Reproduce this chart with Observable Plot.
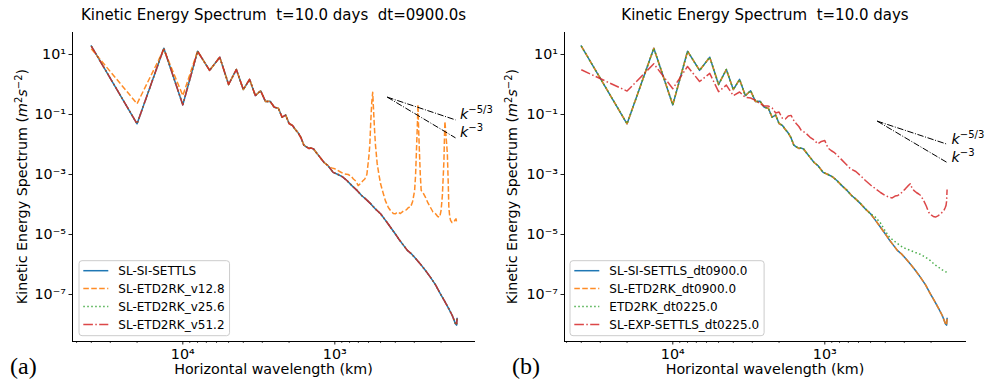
<!DOCTYPE html>
<html>
<head>
<meta charset="utf-8">
<script src="https://cdn.jsdelivr.net/npm/d3@7"></script>
<script src="https://cdn.jsdelivr.net/npm/@observablehq/plot@0.6"></script>
<style>
  html, body { margin: 0; padding: 0; background: #fff; }
  #fig { position: relative; width: 985px; height: 383px; overflow: hidden; font-family: "DejaVu Sans", sans-serif; }
  .panel { position: absolute; top: 0; height: 383px; }
</style>
</head>
<body>
<div id="fig"></div>
<script>
// ---------------- data ----------------
const CIRCUMFERENCE_KM = 40000; // wavelength = circumference / wavenumber

// SL-SI-SETTLS dt=900 (panel a & b); ETD2RK v25.6 / v51.2 and SL-ETD2RK dt0900 overlap it
const kSettls = [1,2,3,4,5,6,7,8,9,10,11,12,13,14,15,16,17,18,19,20,21,22,23,24,25,26,27,28,29,30,
  32,34,36,39,42,45,48,52,56,60,64,69,74,80,86,93,99,105,112,120,128,137,146,158,170,184,198,211,225,237,249,253,255];
const logSettls = [1.28,-1.31,1.21,-0.68,1.11,0.47,0.91,0.0,0.50,-0.17,0.17,-0.37,-0.21,-0.57,-0.56,-0.76,-0.79,-1.09,-1.02,-1.3,
  -1.36,-1.5,-1.62,-1.78,-2.02,-2.08,-2.13,-2.12,-2.15,-2.25,
  -2.43,-2.6,-2.7,-2.93,-3.0,-3.08,-3.2,-3.38,-3.53,-3.7,-3.82,-3.98,-4.15,-4.31,-4.52,-4.76,-4.95,-5.14,-5.33,-5.53,
  -5.65,-5.82,-5.98,-6.2,-6.42,-6.68,-6.98,-7.22,-7.48,-7.7,-7.98,-8.02,-7.8];

// SL-ETD2RK_v12.8 (panel a)
const kV128 = [1,2,3,4,5,6,7,8,9,10,11,12,13,14,15,16,17,18,19,20,21,22,23,24,25,26,27,28,29,30,
  32,34,36,38,40,43,46,49,51,53,55,57,59,61,63,65,66,67,68,69,70,71,72,73,74,76,78,80,83,86,90,93,97,100,104,108,
  114,118,122,126,130,134,136,138,140,141,142,144,146,148,152,158,164,170,177,184,190,196,200,204,207,209,211,212,
  214,217,220,223,225,228,231,236,243,248,251,253,255];
const logV128 = [1.19,-0.64,1.17,-0.37,1.11,0.47,0.91,0.0,0.50,-0.17,0.17,-0.37,-0.21,-0.57,-0.56,-0.76,-0.79,-1.09,-1.02,-1.3,
  -1.36,-1.5,-1.62,-1.78,-2.02,-2.08,-2.13,-2.12,-2.15,-2.25,
  -2.43,-2.6,-2.7,-2.78,-2.81,-2.9,-2.98,-3.0,-3.05,-3.15,-3.22,-3.37,-3.3,-3.22,-3.15,-3.0,-2.7,-2.4,-2.0,-1.2,-0.6,-0.26,
  -0.9,-1.5,-2.0,-2.64,-3.0,-3.31,-3.6,-3.87,-4.1,-4.2,-4.3,-4.31,-4.25,-4.3,
  -4.2,-4.18,-4.1,-4.09,-3.9,-3.53,-3.0,-2.1,-1.2,-0.67,-1.3,-2.2,-3.0,-3.53,-3.6,-3.76,-3.95,-4.09,-4.25,-4.31,-4.4,-4.42,
  -4.2,-3.7,-3.0,-2.5,-1.6,-1.23,
  -1.5,-1.9,-2.3,-3.3,-4.09,-4.4,-4.53,-4.6,-4.59,-4.5,-4.48,-4.58,-4.55];

// ETD2RK_dt0225.0 (panel b)
const kEtd225 = [1,2,3,4,5,6,7,8,9,10,11,12,13,14,15,16,17,18,19,20,21,22,23,24,25,26,27,28,29,30,
  32,34,36,39,42,45,48,52,56,60,64,69,74,80,86,93,99,105,112,120,128,137,146,158,170,184,198,211,225,237,249,255];
const logEtd225 = [1.28,-1.31,1.21,-0.68,1.11,0.47,0.91,0.0,0.50,-0.17,0.17,-0.37,-0.21,-0.57,-0.56,-0.76,-0.79,-1.09,-1.02,-1.3,
  -1.36,-1.5,-1.62,-1.78,-2.02,-2.08,-2.13,-2.12,-2.15,-2.25,
  -2.43,-2.6,-2.7,-2.93,-3.0,-3.08,-3.2,-3.38,-3.53,-3.7,-3.82,-3.98,-4.15,-4.31,
  -4.42,-4.62,-4.85,-5.05,-5.18,-5.3,-5.4,-5.48,-5.53,-5.6,-5.66,-5.76,-5.87,-6.0,-6.1,-6.18,-6.24,-6.26];

// SL-EXP-SETTLS_dt0225.0 (panel b)
const kExp225 = [1,2,3,4,5,6,7,8,9,10,11,12,13,14,15,16,17,18,19,20,21,22,23,24,25,26,27,28,30,32,34,36,38,40,42,44,46,48,
  51,55,59,64,69,74,80,86,93,100,106,111,116,121,126,131,136,141,146,150,154,160,166,171,178,186,193,200,207,214,222,
  231,238,243,248,251,253,255];
const logExp225 = [0.49,-0.22,0.69,-0.14,0.6,0.1,0.37,-0.24,-0.02,-0.37,-0.25,-0.43,-0.45,-0.53,-0.64,-0.72,-0.72,-0.78,
  -0.95,-0.92,-1.12,-1.15,-1.05,-1.03,-1.2,-1.31,-1.4,-1.53,-1.62,-1.76,-1.85,-1.98,-1.9,-1.87,-2.12,-2.2,-2.26,-2.35,
  -2.48,-2.65,-2.81,-2.9,-3.05,-3.2,-3.35,-3.47,-3.6,-3.7,-3.76,-3.78,-3.72,-3.7,-3.64,-3.55,-3.47,-3.38,-3.31,-3.45,-3.53,
  -3.6,-3.65,-3.7,-3.85,-4.05,-4.26,-4.35,-4.4,-4.42,-4.38,-4.31,-4.25,-4.2,-4.1,-4.03,-3.9,-3.5];

// reference slopes: wavenumbers and log10 energy at start / end
const refKA = [88.4, 249];
const refLog53A = [-0.42, -1.18];
const refLog3A = [-0.42, -1.78];
const refKB = [88.4, 255];
const refLog53B = [-1.22, -1.99];
const refLog3B = [-1.22, -2.6];

const namesA = ["SL-SI-SETTLS", "SL-ETD2RK_v12.8", "SL-ETD2RK_v25.6", "SL-ETD2RK_v51.2"];
const namesB = ["SL-SI-SETTLS_dt0900.0", "SL-ETD2RK_dt0900.0", "ETD2RK_dt0225.0", "SL-EXP-SETTLS_dt0225.0"];
const titleA = "Kinetic Energy Spectrum  t=10.0 days  dt=0900.0s";
const titleB = "Kinetic Energy Spectrum  t=10.0 days";
const xLabel = "Horizontal wavelength (km)";

const xMajorTicks = [1e4, 1e3];
const xMajorLabels = ["10⁴", "10³"];
const xMinorTicks = [50000, 40000, 30000, 20000, 9000, 8000, 7000, 6000, 5000, 4000, 3000, 2000, 900, 800, 700, 600, 500, 400, 300, 200];
const yTicks = [1e1, 1e-1, 1e-3, 1e-5, 1e-7];
const yTickLabels = ["10¹", "10⁻¹", "10⁻³", "10⁻⁵", "10⁻⁷"];

// ---------------- styles ----------------
const lineColors = ["#1f77b4", "#ff7f0e", "#2ca02c", "#d62728"];
const lineDashes = [null, "5.55,2.4", "1.5,2.475", "9.6,2.4,1.5,2.4"];
const lineOpacity = [1, 0.9, 0.85, 0.85];
const yDomain = [10 ** -8.567, 10 ** 1.733];
const FS = 14.3;
const TITLE_FS = 15;
const LEGEND_FS = 12;

const toRows = (k, logE) => k.map((n, i) => ({wavelength: CIRCUMFERENCE_KM / n, energy: 10 ** logE[i]}));
const fig = document.getElementById("fig");

function buildPanel(cfg) {
  const holder = document.createElement("div");
  holder.className = "panel";
  holder.style.left = cfg.left + "px";
  holder.style.width = cfg.width + "px";
  fig.appendChild(holder);

  const marks = [
    Plot.axisX({ticks: xMinorTicks, tickSize: 2, tickFormat: () => "", label: null, strokeWidth: 0.7}),
    Plot.axisX({ticks: xMajorTicks, tickSize: 3.5, tickPadding: 3.5, label: null, strokeWidth: 0.9, fontSize: FS,
      tickFormat: d => xMajorLabels[xMajorTicks.indexOf(d)]}),
    Plot.axisY({ticks: yTicks, tickSize: 3.5, tickPadding: 3, label: null, strokeWidth: 0.9, fontSize: FS,
      tickFormat: d => yTickLabels[yTicks.indexOf(d)]}),
  ];
  cfg.series.forEach((s, i) => {
    marks.push(Plot.line(toRows(s[0], s[1]), {
      x: "wavelength", y: "energy", stroke: lineColors[i], strokeWidth: 1.5, strokeOpacity: lineOpacity[i],
      strokeDasharray: lineDashes[i] || undefined,
      strokeLinecap: lineDashes[i] ? "butt" : "square", strokeLinejoin: "round"
    }));
  });
  const ref53 = cfg.refK.map((n, i) => ({wavelength: CIRCUMFERENCE_KM / n, energy: 10 ** cfg.ref53[i]}));
  const ref3 = cfg.refK.map((n, i) => ({wavelength: CIRCUMFERENCE_KM / n, energy: 10 ** cfg.ref3[i]}));
  marks.push(Plot.line(ref53, {x: "wavelength", y: "energy", stroke: "#000", strokeWidth: 1, strokeDasharray: "6.4,1.6,1,1.6", strokeLinecap: "butt"}));
  marks.push(Plot.line(ref3, {x: "wavelength", y: "energy", stroke: "#000", strokeWidth: 1, strokeDasharray: "6.4,1.6,1,1.6", strokeLinecap: "butt"}));
  marks.push(Plot.ruleX([cfg.xDomain[0]], {stroke: "#000", strokeWidth: 1}));
  marks.push(Plot.ruleY([yDomain[0]], {stroke: "#000", strokeWidth: 1}));

  const plot = Plot.plot({
    width: cfg.width, height: 383,
    marginLeft: cfg.marginLeft, marginRight: cfg.marginRight, marginTop: 32, marginBottom: 42,
    style: {fontFamily: "DejaVu Sans", fontSize: FS + "px", color: "#000", background: "transparent", overflow: "visible"},
    x: {type: "log", domain: cfg.xDomain},
    y: {type: "log", domain: yDomain},
    marks
  });
  holder.appendChild(plot);

  const svg = d3.select(plot);
  const sx = plot.scale("x"), sy = plot.scale("y");
  const cx = cfg.marginLeft + (cfg.width - cfg.marginLeft - cfg.marginRight) / 2;
  const txt = (sel, fs = FS) => sel.attr("fill", "#000").style("font-family", "'DejaVu Sans', sans-serif").style("font-size", fs + "px");

  txt(svg.append("text"), TITLE_FS).attr("x", cx).attr("y", 19.5).attr("text-anchor", "middle")
    .attr("xml:space", "preserve").style("white-space", "pre").text(cfg.title);
  txt(svg.append("text")).attr("x", cx).attr("y", 374).attr("text-anchor", "middle").text(xLabel);

  const yl = txt(svg.append("text")).attr("transform", `translate(${cfg.yLabelX},${(32 + 341) / 2}) rotate(-90)`)
    .attr("text-anchor", "middle");
  yl.append("tspan").text("Kinetic Energy Spectrum (");
  yl.append("tspan").attr("font-style", "italic").text("m");
  yl.append("tspan").attr("font-size", 10).attr("dy", -5).text("2");
  yl.append("tspan").attr("font-style", "italic").attr("dy", 5).text("s");
  yl.append("tspan").attr("font-size", 10).attr("dy", -5).text("−2");
  yl.append("tspan").attr("dy", 5).text(")");

  // slope labels
  const lx = sx.apply(CIRCUMFERENCE_KM / cfg.refK[1]) + 5;
  const t53 = txt(svg.append("text")).attr("x", lx).attr("y", sy.apply(10 ** cfg.ref53[1])).attr("text-anchor", "start");
  t53.append("tspan").attr("font-style", "italic").text("k");
  t53.append("tspan").attr("font-size", 10).attr("dy", -6).text("−5/3");
  const t3 = txt(svg.append("text")).attr("x", lx).attr("y", sy.apply(10 ** cfg.ref3[1])).attr("text-anchor", "start");
  t3.append("tspan").attr("font-style", "italic").text("k");
  t3.append("tspan").attr("font-size", 10).attr("dy", -6).text("−3");

  // legend
  const lg = svg.append("g");
  const L = cfg.legendLeft, top = 260.7, rowY0 = 270.7, rowStep = 17.9;
  const rect = lg.append("rect").attr("x", L).attr("y", top).attr("height", 75).attr("rx", 3)
    .attr("fill", "#fff").attr("fill-opacity", 0.8).attr("stroke", "#ccc").attr("stroke-width", 1);
  let maxW = 0;
  cfg.names.forEach((nm, i) => {
    const y = rowY0 + i * rowStep;
    lg.append("line").attr("x1", L + 4.3).attr("x2", L + 29.3).attr("y1", y).attr("y2", y)
      .attr("stroke", lineColors[i]).attr("stroke-width", 1.5).attr("stroke-opacity", lineOpacity[i])
      .attr("stroke-dasharray", lineDashes[i] || null).attr("stroke-linecap", "butt");
    const t = lg.append("text").attr("x", L + 39.3).attr("y", y).attr("dy", "0.36em").attr("text-anchor", "start")
      .attr("fill", "#000").style("font-family", "'DejaVu Sans', sans-serif").style("font-size", LEGEND_FS + "px").text(nm);
    maxW = Math.max(maxW, t.node().getComputedTextLength());
  });
  rect.attr("width", 39.3 + maxW + 5);

  svg.append("text").attr("x", cfg.tagX).attr("y", 373.7).attr("text-anchor", "start").attr("fill", "#000")
    .style("font-family", "'Liberation Serif', serif").style("font-size", "24px").text(cfg.tag);
}

buildPanel({
  left: 0, width: 490, marginLeft: 72, marginRight: 15, xDomain: [53190, 118.7],
  series: [[kSettls, logSettls], [kV128, logV128], [kSettls, logSettls], [kSettls, logSettls]],
  names: namesA, title: titleA, refK: refKA, ref53: refLog53A, ref3: refLog3A,
  yLabelX: 26.5, legendLeft: 79, tag: "(a)", tagX: 10
});
buildPanel({
  left: 490, width: 495, marginLeft: 74, marginRight: 19, xDomain: [51590, 116.9],
  series: [[kSettls, logSettls], [kSettls, logSettls], [kEtd225, logEtd225], [kExp225, logExp225]],
  names: namesB, title: titleB, refK: refKB, ref53: refLog53B, ref3: refLog3B,
  yLabelX: 27, legendLeft: 80, tag: "(b)", tagX: 22
});
</script>
</body>
</html>
